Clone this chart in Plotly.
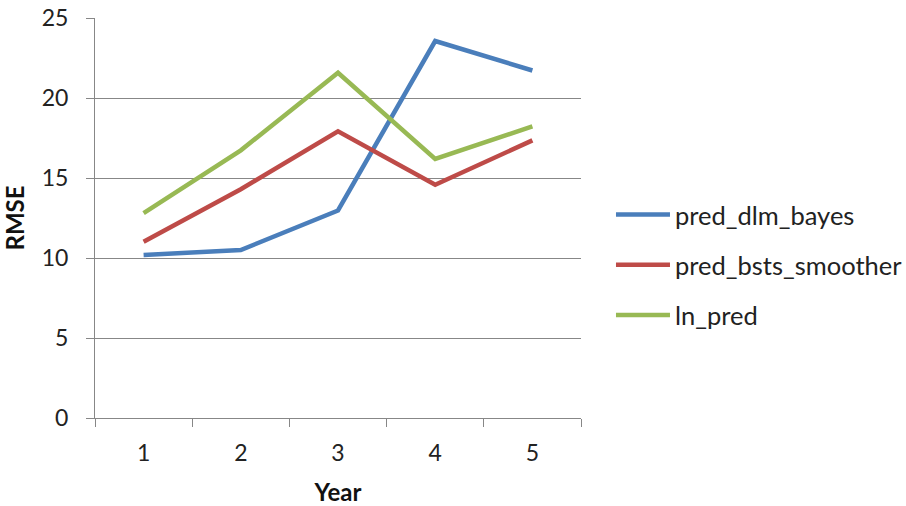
import plotly.graph_objects as go

years = ["1", "2", "3", "4", "5"]
pred_dlm_bayes = [10.19, 10.5, 12.97, 23.56, 21.72]
pred_bsts_smoother = [11.02, 14.3, 17.92, 14.58, 17.35]
ln_pred = [12.8, 16.73, 21.58, 16.19, 18.23]

series = [
    ("pred_dlm_bayes", pred_dlm_bayes, "#4A7EBB"),
    ("pred_bsts_smoother", pred_bsts_smoother, "#BE4B48"),
    ("ln_pred", ln_pred, "#98B954"),
]

FONT = "Lato"
GRID = "#878787"
TEXT = "#222222"

fig = go.Figure()
for name, vals, color in series:
    fig.add_trace(go.Scatter(
        x=years, y=vals, name=name, mode="lines",
        line=dict(color=color, width=4.5),
        legendgroup=name,
    ))

fig.update_layout(
    width=906, height=506,
    margin=dict(l=95, r=325, t=18, b=88, autoexpand=False),
    paper_bgcolor="white", plot_bgcolor="white",
    font=dict(family=FONT, size=23, color=TEXT),
    showlegend=True,
    legend=dict(
        x=1.0617, xanchor="left", y=0.3825, yanchor="middle",
        traceorder="grouped", tracegroupgap=14,
        itemwidth=54,
        font=dict(family=FONT, size=25.5, color=TEXT),
        bgcolor="rgba(0,0,0,0)",
    ),
)
fig.update_xaxes(
    type="category", tickson="boundaries", range=[-0.5, 4.5],
    showline=True, linecolor=GRID, linewidth=1,
    ticks="outside", ticklen=8, tickcolor=GRID,
    ticklabelstandoff=14,
    showgrid=False, zeroline=False, automargin=False,
    tickfont=dict(family=FONT, size=23, color=TEXT),
    title=dict(text="<b>Year</b>", font=dict(family=FONT, size=24, color="#111111"), standoff=20),
)
fig.update_yaxes(
    range=[0, 25], dtick=5, tick0=0,
    showline=True, linecolor=GRID, linewidth=1,
    ticks="outside", ticklen=8, tickcolor=GRID,
    ticklabelstandoff=13,
    showgrid=True, gridcolor=GRID, gridwidth=1,
    zeroline=False, automargin=False,
    tickfont=dict(family=FONT, size=23, color=TEXT),
    title=dict(text="<b>RMSE</b>", font=dict(family=FONT, size=24, color="#111111"), standoff=12),
)

fig.write_html("out.html")
